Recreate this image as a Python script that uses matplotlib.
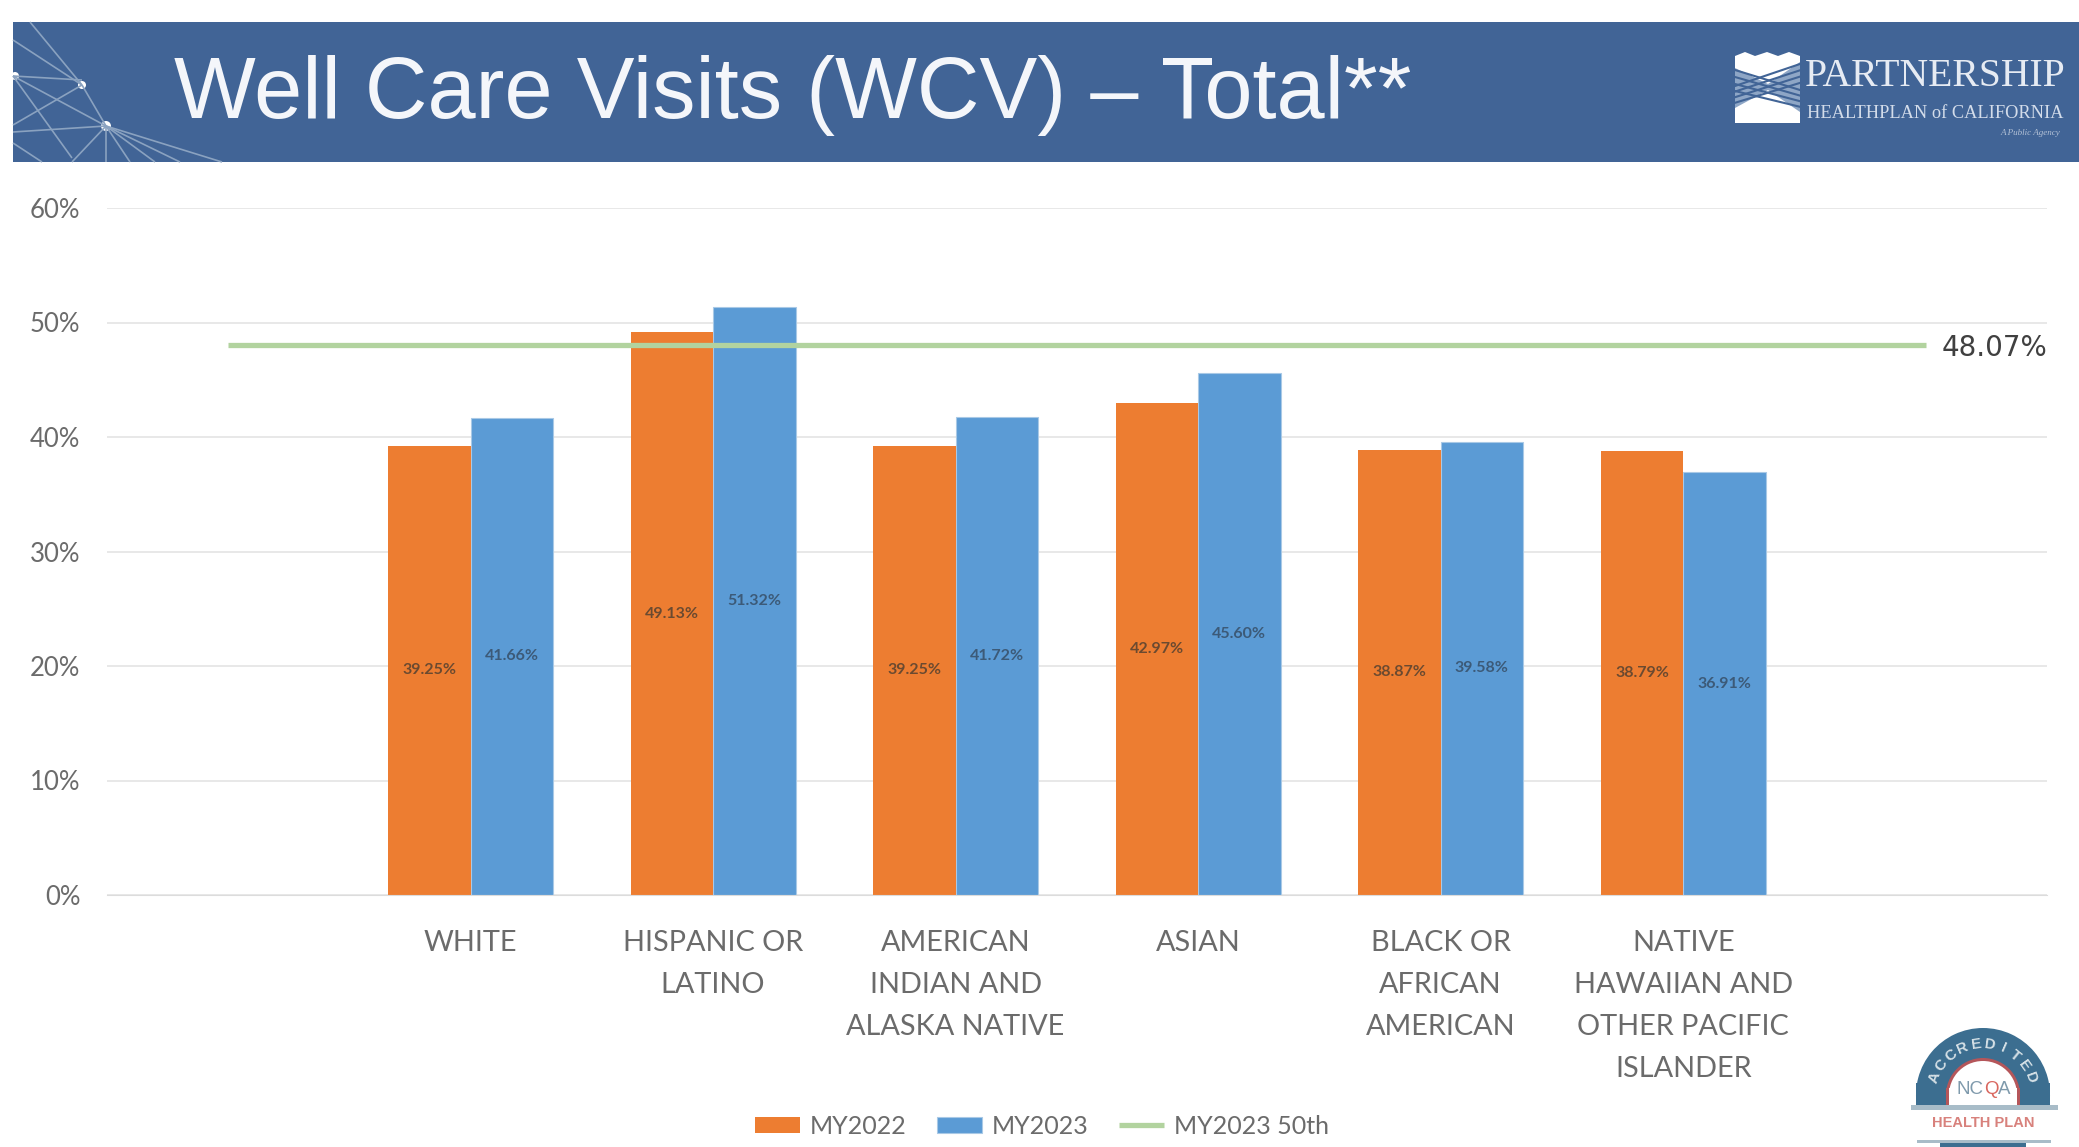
import math
import matplotlib
matplotlib.use('Agg')
import matplotlib.pyplot as plt
from matplotlib.patches import Rectangle, Wedge, Circle, Polygon
import numpy as np

#------data------#
categories = ['', 'WHITE', 'HISPANIC OR\nLATINO', 'AMERICAN\nINDIAN AND\nALASKA NATIVE', 'ASIAN',
              'BLACK OR\nAFRICAN\nAMERICAN', 'NATIVE\nHAWAIIAN AND\nOTHER PACIFIC\nISLANDER', ' ']
my2022 = [39.25, 49.13, 39.25, 42.97, 38.87, 38.79]
my2023 = [41.66, 51.32, 41.72, 45.60, 39.58, 36.91]
benchmark = 48.07
yticks = [0, 10, 20, 30, 40, 50, 60]

ORANGE = '#ED7D31'
BLUE = '#5B9BD5'
GREEN = '#B2D39F'
HEADER = '#416496'
GREY = '#6b6b6b'

W, H = 2079, 1147
fig = plt.figure(figsize=(W / 100, H / 100), dpi=100, facecolor='white')

#------overlay in pixels for header and logos------#
bg = fig.add_axes([0, 0, 1, 1], zorder=0)
bg.set_xlim(0, W)
bg.set_ylim(H, 0)
bg.axis('off')

bg.add_patch(Rectangle((13, 22), W - 13, 140, color=HEADER, lw=0))
bg.text(174, 95, 'Well Care Visits (WCV) \u2013 Total**', color='#f4f6fa', fontsize=62.4,
        family='Liberation Sans', va='center', ha='left')

# network lines in the header corner
net = [((30, 22), (82, 85)), ((13, 40), (82, 85)), ((13, 76), (82, 80)), ((13, 76), (106, 126)),
       ((82, 85), (13, 125)), ((82, 85), (106, 126)), ((106, 126), (13, 132)), ((106, 126), (72, 162)),
       ((106, 126), (106, 162)), ((106, 126), (222, 162)), ((106, 126), (180, 162)),
       ((106, 126), (155, 162)), ((106, 126), (130, 162)), ((13, 76), (72, 158)), ((13, 143), (42, 162))]
for a, b in net:
    bg.plot([a[0], b[0]], [a[1], b[1]], color='#8aa2c0', lw=1.2, solid_capstyle='butt')
for p, r in [((82, 85), 4), ((106, 126), 5), ((15, 76), 4)]:
    bg.add_patch(Circle(p, r, color='white', lw=0))

# partnership logo
top = [(1735, 123), (1735, 56), (1745, 52), (1755, 56), (1767, 52), (1778, 56), (1789, 52), (1800, 56), (1800, 123)]
bg.add_patch(Polygon(top, closed=True, color='white', lw=0))
bg.add_patch(Polygon([(1735, 68), (1768, 84), (1800, 62), (1800, 112), (1768, 90), (1735, 108)], closed=True,
                     color='#8ea6c6', lw=0))
for off in range(0, 28, 7):
    bg.plot([1735, 1800], [70 + off, 90 + off * 0.8], color=HEADER, lw=1.5)
    bg.plot([1735, 1800], [86 + off * 0.8, 64 + off * 0.9], color=HEADER, lw=1.5)
bg.text(1935, 76, 'PARTNERSHIP', color='#e6ebf3', fontsize=28.5, family='Liberation Serif', ha='center', va='center')
bg.text(1935, 114, 'HEALTHPLAN of CALIFORNIA', color='#d3dcea', fontsize=13.2, family='Liberation Serif',
        ha='center', va='center')
bg.text(2060, 133, 'A Public Agency', color='#b3c1d6', fontsize=6.5, family='Liberation Serif',
        ha='right', va='center', style='italic')

# ncqa seal
cx, cy = 1983, 1095
SEAL = '#3c6e90'
bg.add_patch(Wedge((cx, cy), 67, 170, 10, width=32, color=SEAL, lw=0))
bg.add_patch(Rectangle((cx - 67, cy - 12), 134, 24, color=SEAL, lw=0))
bg.add_patch(Wedge((cx, cy), 37, 170, 10, color='#b5565a', lw=0))
bg.add_patch(Rectangle((cx - 37, cy - 7), 74, 19, color='#b5565a', lw=0))
bg.add_patch(Wedge((cx, cy), 34, 170, 10, color='white', lw=0))
bg.add_patch(Rectangle((cx - 34, cy - 7), 68, 19, color='white', lw=0))
bg.add_patch(Rectangle((1911, 1105), 147, 5, color='#a8bcc8', lw=0))
bg.add_patch(Rectangle((1917, 1140), 134, 3, color='#a8bcc8', lw=0))
bg.add_patch(Rectangle((1940, 1143), 86, 4, color=SEAL, lw=0))
word = 'ACCREDITED'
angles = np.linspace(160, 20, len(word))
for ch, a in zip(word, angles):
    bg.text(cx + 51 * math.cos(math.radians(a)), cy - 51 * math.sin(math.radians(a)), ch, color='#d5e0e6',
            fontsize=11, rotation=a - 90, ha='center', va='center', family='Liberation Sans', weight='bold')
bg.text(1983, 1089, 'NC', color='#7f9aac', fontsize=13.5, ha='right', va='center', family='Liberation Sans')
bg.text(1991, 1089, 'Q', color='#d9675f', fontsize=13.5, ha='center', va='center', family='Liberation Sans')
bg.text(1998, 1089, 'A', color='#7f9aac', fontsize=13.5, ha='left', va='center', family='Liberation Sans')
bg.text(cx, 1123, 'HEALTH PLAN', color='#d8817c', fontsize=10.5, ha='center', va='center',
        family='Liberation Sans', weight='bold')

#------main chart------#
ax = fig.add_axes([106.7 / W, 1 - 895 / H, (2047 - 106.7) / W, (895 - 208) / H], zorder=1)
ax.patch.set_alpha(0)

x = np.arange(len(categories))
bar_x = x[1:-1]
width = 0.34
bars2 = ax.bar(bar_x + width / 2, my2023, width, color=BLUE, edgecolor='#a9c9e6', linewidth=0.8,
               label='MY2023', zorder=2)
bars1 = ax.bar(bar_x - width / 2, my2022, width, color=ORANGE, edgecolor='none',
               label='MY2022', zorder=2.5)
line, = ax.plot(x, [benchmark] * len(x), color=GREEN, lw=3.8, label='MY2023 50th', zorder=3, solid_capstyle='butt')

ax.bar_label(bars1, fmt='%.2f%%', label_type='center', fontsize=11.5, color='#6b4a30', family='Lato', weight='bold')
ax.bar_label(bars2, fmt='%.2f%%', label_type='center', fontsize=11.5, color='#3c5a78', family='Lato', weight='bold')
ax.annotate('%.2f%%' % benchmark, (x[-1], benchmark), xytext=(11.5, -2.5), textcoords='offset points', va='center',
            fontsize=20, color='#404040', family='DejaVu Sans')

ax.set_xlim(-0.5, len(categories) - 0.5)
ax.set_ylim(0, 60)
ax.set_yticks(yticks)
ax.set_yticklabels(['%d%%' % v for v in yticks], fontsize=18.5, color=GREY, family='Lato')
ax.set_xticks(x)
ax.set_xticklabels(categories, fontsize=20.8, color=GREY, family='Lato', linespacing=1.76)
ax.tick_params(axis='both', length=0)
ax.tick_params(axis='y', pad=19)
ax.tick_params(axis='x', pad=25)
ax.grid(axis='y', color='#e6e6e6', lw=1.3, zorder=0)
ax.set_axisbelow(True)
for s in ['top', 'left', 'right']:
    ax.spines[s].set_visible(False)
ax.spines['bottom'].set_color('#dcdcdc')

ax.legend(handles=[bars1, bars2, line], loc='center', bbox_to_anchor=(1042 / W, 1 - 1126 / H),
          bbox_transform=fig.transFigure, ncol=3, frameon=False, prop={'family': 'Lato', 'size': 18},
          labelcolor=GREY, columnspacing=1.2, handlelength=1.8, handletextpad=0.4, handleheight=0.6)

fig.savefig('out.png', dpi=100)
